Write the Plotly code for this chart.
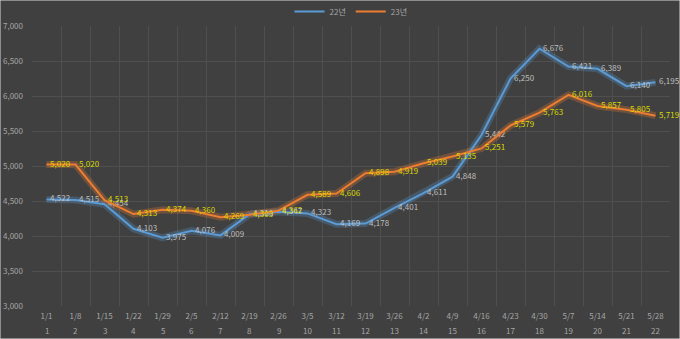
import plotly.graph_objects as go

dates = ["1/1","1/8","1/15","1/22","1/29","2/5","2/12","2/19","2/26","3/5","3/12",
         "3/19","3/26","4/2","4/9","4/16","4/23","4/30","5/7","5/14","5/21","5/28"]
weeks = [str(i) for i in range(1, 23)]
y22 = [4522, 4515, 4454, 4103, 3975, 4076, 4009, 4310, 4347, 4323, 4169,
       4178, 4401, 4611, 4848, 5442, 6250, 6676, 6421, 6389, 6140, 6195]
y23 = [5020, 5020, 4513, 4313, 4374, 4360, 4269, 4303, 4362, 4589, 4606,
       4898, 4919, 5039, 5135, 5251, 5579, 5763, 6016, 5857, 5805, 5719]
yticks = [3000, 3500, 4000, 4500, 5000, 5500, 6000, 6500, 7000]

BLUE = "#5b9bd5"
ORANGE = "#ed7d31"
BG = "#404040"
FONT = "Noto Sans CJK KR"
PAD = "\u00a0\u00a0"

fig = go.Figure()
# glow layers
fig.add_trace(go.Scatter(x=dates, y=y22, mode="lines", showlegend=False, hoverinfo="skip",
                         line=dict(color="rgba(91,155,213,0.28)", width=7)))
fig.add_trace(go.Scatter(x=dates, y=y23, mode="lines", showlegend=False, hoverinfo="skip",
                         line=dict(color="rgba(237,125,49,0.28)", width=7)))
fig.add_trace(go.Scatter(x=dates, y=y22, mode="lines+text", name="22년", cliponaxis=False,
                         line=dict(color=BLUE, width=2),
                         text=[PAD + f"{v:,}" for v in y22], textposition="middle right",
                         textfont=dict(color="#bfbfbf", size=8, family=FONT)))
fig.add_trace(go.Scatter(x=dates, y=y23, mode="lines+text", name="23년", cliponaxis=False,
                         line=dict(color=ORANGE, width=2),
                         text=[PAD + f"{v:,}" for v in y23], textposition="middle right",
                         textfont=dict(color="#d8d800", size=8, family=FONT)))

for d, w in zip(dates, weeks):
    fig.add_annotation(x=d, xref="x", y=0, yref="paper", yanchor="middle", text=w,
                       showarrow=False, yshift=-24,
                       font=dict(color="#a6a6a6", size=8, family=FONT))

fig.update_layout(
    width=680, height=339,
    margin=dict(l=32, r=10, t=26, b=33, autoexpand=False),
    paper_bgcolor=BG, plot_bgcolor=BG,
    font=dict(family=FONT, size=8, color="#a6a6a6"),
    legend=dict(orientation="h", x=0.5, xanchor="center", y=1.0, yanchor="bottom",
                font=dict(size=8, color="#a6a6a6"), bgcolor="rgba(0,0,0,0)",
                traceorder="normal"),
    xaxis=dict(type="category", categoryorder="array", categoryarray=dates,
               range=[-0.5, len(dates) - 0.5], autorange=False, automargin=False,
               tickson="boundaries", showgrid=True, gridcolor="#4f4f4f", gridwidth=1,
               zeroline=False, showline=False, ticks="", ticklabelstandoff=4,
               tickfont=dict(size=8, color="#a6a6a6")),
    yaxis=dict(range=[3000, 7000], autorange=False, automargin=False,
               tickvals=yticks, tickformat=",d",
               showgrid=True, gridcolor="#4f4f4f", gridwidth=1, zeroline=False,
               showline=False, ticks="", ticklabelstandoff=8,
               tickfont=dict(size=8, color="#a6a6a6")),
    shapes=[dict(type="rect", xref="paper", yref="paper", x0=-32/638, x1=1+10/638,
                 y0=-33/280, y1=1+26/280, line=dict(color="#d9d9d9", width=1),
                 fillcolor="rgba(0,0,0,0)")],
)

fig.write_html("out.html")
